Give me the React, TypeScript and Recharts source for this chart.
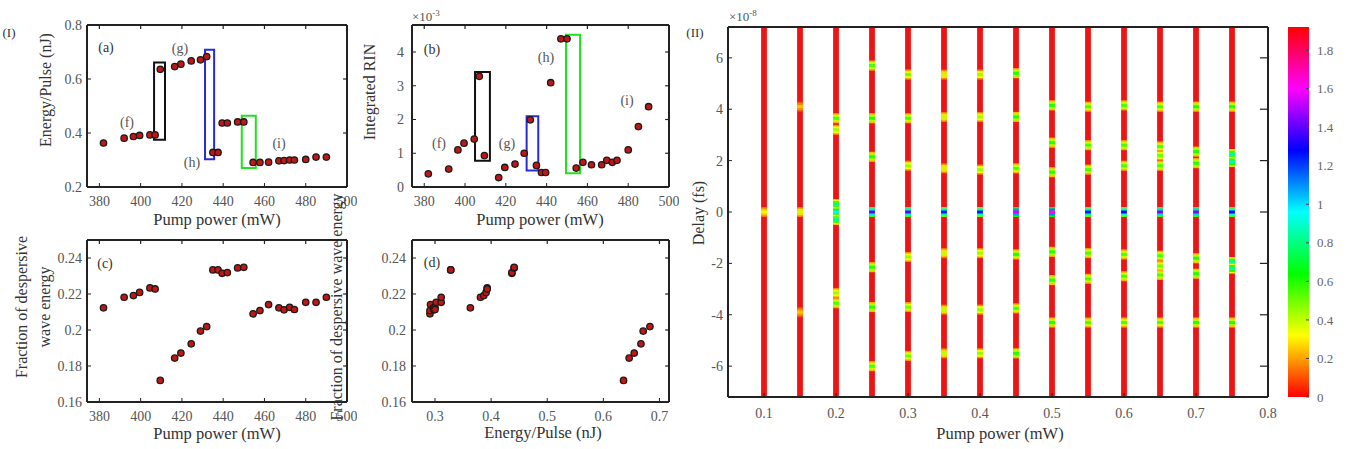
import React from "react";
import {
    ScatterChart,
    Scatter,
    XAxis,
    YAxis,
    ReferenceArea,
    ReferenceLine,
    BarChart,
    Bar,
} from "recharts";

// ---- panel (I): sweep of pump power ----
const pumpPower = [382, 392, 396.5, 399.5, 404.5, 407, 409.5, 416.5, 419.5, 424.5, 429, 432, 435, 437.5, 439.5, 442, 447, 450, 454.5, 457.8, 462, 467, 469.5, 472.2, 474.5, 480, 485, 490];
const energyPerPulse = [0.363, 0.381, 0.387, 0.391, 0.393, 0.393, 0.636, 0.646, 0.655, 0.667, 0.671, 0.683, 0.328, 0.328, 0.437, 0.437, 0.441, 0.441, 0.291, 0.291, 0.292, 0.297, 0.298, 0.3, 0.3, 0.302, 0.311, 0.311];
const integratedRin = [0.39, 0.53, 1.1, 1.3, 1.42, 3.28, 0.93, 0.28, 0.58, 0.68, 1.0, 1.99, 0.64, 0.43, 0.43, 3.09, 4.39, 4.39, 0.56, 0.73, 0.66, 0.66, 0.79, 0.73, 0.79, 1.1, 1.79, 2.38];
const dwFraction = [0.2123, 0.2182, 0.2191, 0.2209, 0.2234, 0.2228, 0.172, 0.1844, 0.1872, 0.1923, 0.1994, 0.2019, 0.2334, 0.2334, 0.2315, 0.2319, 0.2345, 0.2348, 0.209, 0.2108, 0.2141, 0.2123, 0.2112, 0.2126, 0.2114, 0.2154, 0.2154, 0.2182];

const pumpTicks = [380, 400, 420, 440, 460, 480, 500];
const energyTicks = [0.2, 0.4, 0.6, 0.8];
const rinTicks = [0, 1, 2, 3, 4];
const fractionTicks = [0.16, 0.18, 0.2, 0.22, 0.24];
const pulseTicks = [0.3, 0.4, 0.5, 0.6, 0.7];

// transition boxes: [pump from, pump to, low, high]
const energyBoxes = [
    [406.5, 411.8, 0.375, 0.661],
    [431.2, 435.6, 0.303, 0.708],
    [449, 455.8, 0.27, 0.464],
];
const rinBoxes = [
    [404.9, 412.2, 0.78, 3.41],
    [430.2, 435.9, 0.49, 2.1],
    [449.5, 456.4, 0.41, 4.51],
];
const boxColors = ["#111111", "#2a2ad8", "#22e022"];

// ---- panel (II): delay map ----
const stripPower = [0.1, 0.15, 0.2, 0.25, 0.3, 0.35, 0.4, 0.45, 0.5, 0.55, 0.6, 0.65, 0.7, 0.75];
const peakDelay = [
    [0],
    [4.1, 0, -3.9],
    [3.65, 3.2, 0.3, 0, -0.3, -3.15, -3.55],
    [5.7, 3.65, 2.15, 0, -2.15, -3.7, -6.0],
    [5.35, 3.65, 1.8, 0, -1.75, -3.7, -5.6],
    [5.35, 3.7, 1.7, 0, -1.6, -3.8, -5.5],
    [5.35, 3.7, 1.65, 0, -1.6, -3.8, -5.5],
    [5.4, 3.7, 1.7, 0, -1.65, -3.75, -5.5],
    [4.15, 2.7, 1.55, 0, -1.55, -2.65, -4.3],
    [4.1, 2.6, 1.65, 0, -1.6, -2.6, -4.3],
    [4.15, 2.6, 1.8, 0, -1.65, -2.5, -4.3],
    [4.1, 2.55, 2.2, 1.8, 0, -1.7, -2.1, -2.45, -4.3],
    [4.1, 2.35, 1.9, 0, -1.8, -2.4, -4.3],
    [4.1, 2.25, 1.95, 0, -1.95, -2.2, -4.3],
];
const peakLevel = [
    [0.35],
    [0.25, 0.38, 0.25],
    [0.55, 0.45, 0.8, 0.95, 0.8, 0.45, 0.55],
    [0.55, 0.6, 0.6, 1.4, 0.6, 0.6, 0.55],
    [0.5, 0.55, 0.45, 1.4, 0.45, 0.5, 0.5],
    [0.4, 0.4, 0.4, 1.25, 0.4, 0.4, 0.4],
    [0.45, 0.45, 0.45, 1.25, 0.45, 0.45, 0.45],
    [0.6, 0.6, 0.55, 1.55, 0.6, 0.55, 0.6],
    [0.6, 0.6, 0.6, 1.6, 0.6, 0.6, 0.6],
    [0.55, 0.55, 0.55, 1.25, 0.55, 0.55, 0.55],
    [0.55, 0.55, 0.55, 1.3, 0.55, 0.55, 0.55],
    [0.55, 0.55, 0.5, 0.55, 1.45, 0.55, 0.5, 0.55, 0.55],
    [0.6, 0.6, 0.6, 1.45, 0.6, 0.6, 0.6],
    [0.6, 0.85, 0.85, 1.3, 0.85, 0.85, 0.6],
];
const stripTicks = [0.1, 0.2, 0.3, 0.4, 0.5, 0.6, 0.7, 0.8];
const delayTicks = [-6, -4, -2, 0, 2, 4, 6];
const levelTicks = [0, 0.2, 0.4, 0.6, 0.8, 1, 1.2, 1.4, 1.6, 1.8];
const levelMax = 1.92;

const serif = "'Liberation Serif', 'Times New Roman', serif";
const tickStyle = { fontSize: 14, fill: "#555", fontFamily: serif };
const axisLine = { stroke: "#222", strokeWidth: 2 };

const hsv = (v: number) => `hsl(${(v / levelMax) * 360}, 100%, 50%)`;

const Dot = (p: any) => (
    <circle cx={p.cx} cy={p.cy} r={3.2} fill="#c21515" stroke="#1a1a1a" strokeWidth={1.3} />
);

const Peak = (p: any) => {
    const v = p.payload.v;
    return (
        <g>
            <rect x={p.cx - 2.9} y={p.cy - 5} width={5.8} height={10} fill={hsv(v * 0.4)} />
            <rect x={p.cx - 2.9} y={p.cy - 3.5} width={5.8} height={7} fill={hsv(v * 0.7)} />
            <rect x={p.cx - 2.9} y={p.cy - 1.5} width={5.8} height={3} fill={hsv(v)} />
        </g>
    );
};

function T({ x, y, children, size = 14, rot = false, color = "#333", left = false }: any) {
    return (
        <div
            style={{
                position: "absolute",
                left: x,
                top: y,
                transform: `translate(${left ? "0" : "-50%"},-50%)${rot ? " rotate(-90deg)" : ""}`,
                fontSize: size,
                fontFamily: serif,
                color,
                whiteSpace: "nowrap",
                lineHeight: "23px",
                textAlign: "center",
            }}
        >
            {children}
        </div>
    );
}

// top and right border of a box, with small inward ticks
function frame(xDomain: number[], yDomain: number[], xTicks: number[], yTicks: number[]) {
    const dx = (xDomain[1] - xDomain[0]) * 0.015;
    const dy = (yDomain[1] - yDomain[0]) * 0.025;
    return [
        <ReferenceLine key="top" y={yDomain[1]} stroke="#222" strokeWidth={2} ifOverflow="visible" />,
        <ReferenceLine key="right" x={xDomain[1]} stroke="#222" strokeWidth={2} ifOverflow="visible" />,
        ...xTicks.map((t) => (
            <ReferenceLine key={"tx" + t} segment={[{ x: t, y: yDomain[1] }, { x: t, y: yDomain[1] - dy }]} stroke="#222" strokeWidth={1.2} ifOverflow="visible" />
        )),
        ...yTicks.map((t) => (
            <ReferenceLine key={"ty" + t} segment={[{ x: xDomain[1], y: t }, { x: xDomain[1] - dx, y: t }]} stroke="#222" strokeWidth={1.2} ifOverflow="visible" />
        )),
    ];
}

function Panel({ left, top, w, h, xDomain, yDomain, xTicks, yTicks, pts, boxes, yMargin = 9 }: any) {
    const yw = 50;
    return (
        <div style={{ position: "absolute", left: left - yw, top: top - 10 }}>
            <ScatterChart width={yw + w + 10} height={10 + h + 30} margin={{ top: 10, right: 10, bottom: 0, left: 0 }}>
                <XAxis type="number" dataKey="x" domain={xDomain} ticks={xTicks} allowDataOverflow interval={0}
                    height={30} tickSize={-4} tickMargin={13} axisLine={axisLine} tickLine={{ stroke: "#222" }} tick={tickStyle} />
                <YAxis type="number" dataKey="y" domain={yDomain} ticks={yTicks} allowDataOverflow interval={0}
                    width={yw} tickSize={-4} tickMargin={yMargin} axisLine={axisLine} tickLine={{ stroke: "#222" }} tick={tickStyle} />
                {frame(xDomain, yDomain, xTicks, yTicks)}
                {(boxes || []).map((b: number[], i: number) => (
                    <ReferenceArea key={i} x1={b[0]} x2={b[1]} y1={b[2]} y2={b[3]} fill="none" stroke={boxColors[i]} strokeWidth={2} ifOverflow="visible" />
                ))}
                <Scatter data={pts} shape={Dot} isAnimationActive={false} />
            </ScatterChart>
        </div>
    );
}

export default function App() {
    const energyPts = pumpPower.map((x, i) => ({ x, y: energyPerPulse[i] }));
    const rinPts = pumpPower.map((x, i) => ({ x, y: integratedRin[i] }));
    const fracPts = pumpPower.map((x, i) => ({ x, y: dwFraction[i] }));
    const pulsePts = energyPerPulse.map((x, i) => ({ x, y: dwFraction[i] }));
    const peaks = peakDelay.flatMap((row, i) => row.map((d, j) => ({ x: stripPower[i], y: d, v: peakLevel[i][j] })));

    const mapW = 540, mapH = 370, yw = 50;

    return (
        <div style={{ position: "absolute", left: 0, top: 0, width: 1353, height: 449, background: "#fff", overflow: "hidden", fontFamily: serif }}>
            <style>{`.recharts-text, .recharts-cartesian-axis-tick-value { font-family: ${serif}; }`}</style>
            <Panel left={87} top={25} w={260} h={162} xDomain={[374, 500]} yDomain={[0.2, 0.8]} xTicks={pumpTicks} yTicks={energyTicks} pts={energyPts} boxes={energyBoxes} />
            <Panel left={412} top={25} w={257} h={162} xDomain={[374, 500]} yDomain={[0, 4.8]} xTicks={pumpTicks} yTicks={rinTicks} pts={rinPts} boxes={rinBoxes} yMargin={12} />
            <Panel left={87} top={240} w={260} h={162} xDomain={[374, 500]} yDomain={[0.16, 0.25]} xTicks={pumpTicks} yTicks={fractionTicks} pts={fracPts} />
            <Panel left={412} top={240} w={257} h={162} xDomain={[0.259, 0.717]} yDomain={[0.16, 0.25]} xTicks={pulseTicks} yTicks={fractionTicks} pts={pulsePts} yMargin={10} />

            <div style={{ position: "absolute", left: 728 - yw, top: 27 - 10 }}>
                <ScatterChart width={yw + mapW + 10} height={10 + mapH + 30} margin={{ top: 10, right: 10, bottom: 0, left: 0 }}>
                    <XAxis type="number" dataKey="x" domain={[0.05, 0.8]} ticks={stripTicks} allowDataOverflow interval={0}
                        height={30} tickSize={-4} tickMargin={15} axisLine={axisLine} tickLine={{ stroke: "#222" }} tick={tickStyle} />
                    <YAxis type="number" dataKey="y" domain={[-7.2, 7.2]} ticks={delayTicks} allowDataOverflow interval={0}
                        width={yw} tickSize={-4} tickMargin={9} axisLine={axisLine} tickLine={{ stroke: "#222" }} tick={tickStyle} />
                    {stripPower.map((p) => (
                        <ReferenceLine key={p} x={p} stroke="#ec1414" strokeWidth={5.8} />
                    ))}
                    <Scatter data={peaks} shape={Peak} isAnimationActive={false} />
                    {frame([0.05, 0.8], [-7.2, 7.2], [], delayTicks)}
                </ScatterChart>
            </div>

            <div style={{ position: "absolute", left: 1288, top: 17 }}>
                <svg width={0} height={0} style={{ position: "absolute" }}>
                    <defs>
                        <linearGradient id="hsvbar" x1="0" y1="1" x2="0" y2="0">
                            {[0, 1, 2, 3, 4, 5, 6].map((k) => (
                                <stop key={k} offset={k / 6} stopColor={`hsl(${k * 60}, 100%, 50%)`} />
                            ))}
                        </linearGradient>
                    </defs>
                </svg>
                <BarChart width={21 + 45} height={mapH + 20} data={[{ name: "hsv", top: levelMax }]} barCategoryGap={0}
                    margin={{ top: 10, right: 0, bottom: 10, left: 0 }}>
                    <XAxis dataKey="name" hide />
                    <YAxis orientation="right" type="number" domain={[0, levelMax]} ticks={levelTicks} allowDataOverflow interval={0}
                        width={45} tickSize={-3} tickMargin={11} axisLine={false} tickLine={{ stroke: "#444" }}
                        tick={{ ...tickStyle, fontSize: 13, fill: "#666", textAnchor: "start" }} />
                    <Bar dataKey="top" fill="url(#hsvbar)" isAnimationActive={false} />
                </BarChart>
            </div>

            <T x={9} y={32} size={13}>(I)</T>
            <T x={695} y={32} size={13}>(II)</T>
            <T x={106} y={47}>(a)</T>
            <T x={432} y={49}>(b)</T>
            <T x={105} y={263}>(c)</T>
            <T x={432} y={262}>(d)</T>

            <T x={127} y={122} color="#555">(f)</T>
            <T x={180} y={48} color="#555">(g)</T>
            <T x={192} y={162} color="#555">(h)</T>
            <T x={279} y={143} color="#555">(i)</T>
            <T x={439} y={143} color="#555">(f)</T>
            <T x={507} y={143} color="#555">(g)</T>
            <T x={546} y={57} color="#555">(h)</T>
            <T x={627} y={100} color="#555">(i)</T>

            <T x={45} y={90} size={16} rot>Energy/Pulse (nJ)</T>
            <T x={369} y={92} size={16} rot>Integrated RIN</T>
            <T x={33} y={307} size={16} rot>Fraction of despersive<br />wave energy</T>
            <T x={336} y={307} size={16} rot>Fraction of despersive wave energy</T>
            <T x={698} y={213} size={16} rot>Delay (fs)</T>

            <T x={217} y={219} size={16.5}>Pump power (mW)</T>
            <T x={540} y={219} size={16.5}>Pump power (mW)</T>
            <T x={217} y={433} size={16.5}>Pump power (mW)</T>
            <T x={543} y={432} size={16.5}>Energy/Pulse (nJ)</T>
            <T x={1000} y={433} size={16.5}>Pump power (mW)</T>

            <T x={412} y={15} size={13} left color="#555">×10<sup style={{ fontSize: 9 }}>-3</sup></T>
            <T x={729} y={15} size={13} left color="#555">×10<sup style={{ fontSize: 9 }}>-8</sup></T>
        </div>
    );
}
